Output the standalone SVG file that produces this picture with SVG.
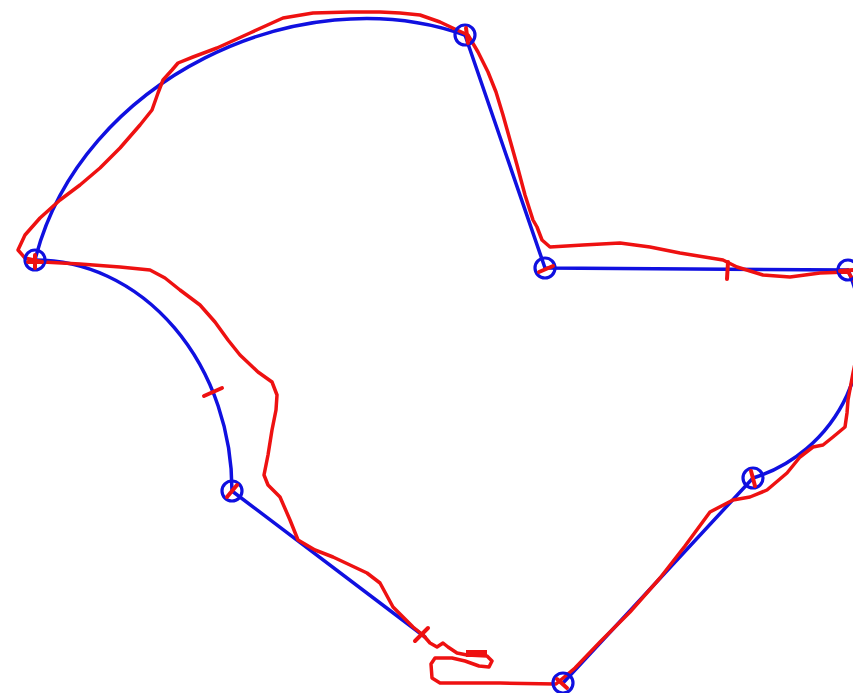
<svg xmlns="http://www.w3.org/2000/svg" width="853" height="693" viewBox="0 0 853 693">
<style>
.blue{fill:none;stroke:#1010e0;stroke-width:3.5;stroke-linecap:round;stroke-linejoin:round}
.node{fill:none;stroke:#1010e0;stroke-width:3.2}
.red{fill:none;stroke:#ee1111;stroke-width:3.5;stroke-linecap:round;stroke-linejoin:round}
.mark{fill:none;stroke:#ee1111;stroke-width:4;stroke-linecap:round}
</style>
<rect width="853" height="693" fill="#ffffff"/>
<g id="connectors">
<path class="blue" d="M35,260 C80,80 300,-24 465,35"/>
<path class="blue" d="M465,35 L545,268 L848,270"/>
<path class="blue" d="M848,270 A153.5,153.5 0 0 1 753,478 L563,683"/>
<path class="blue" d="M35,260 A197,231 0 0 1 232,491 L425,637"/>
<path class="red" d="M25,258 L43,262 L80,264 L120,267 L150,270 L165,278 L180,290 L200,305 L215,322 L228,340 L240,355 L258,372 L272,382 L277,395 L276,410 L272,430 L268,455 L264,475 L268,485 L280,497 L290,520 L298,540 L315,550 L333,557 L350,565 L367,573 L380,583 L393,607 L413,627 L423,635 L430,643 L437,647 L443,643 L448,647 L457,653 L467,655 L487,656 L492,661 L489,667 L479,666 L465,661 L452,658 L435,658 L431,664 L432,678 L440,683 L500,683 L556,684 L575,668 L600,642 L630,612 L660,578 L685,546 L710,512 L733,500 L750,497 L767,490 L787,473 L800,457 L813,447 L823,445 L833,437 L845,427 L847,413 L848,400 L853,373 L862,330 L860,290 L848,272 L820,273 L790,277 L763,275 L737,267 L723,260 L680,253 L650,247 L620,243 L583,245 L550,247 L542,240 L537,227 L533,220 L525,195 L517,165 L510,140 L503,115 L496,92 L488,72 L478,52 L468,35 L457,30 L440,22 L420,15 L400,13 L380,12 L350,12 L313,13 L283,18 L250,33 L217,48 L193,57 L178,63 L172,70 L163,80 L158,93 L152,110 L140,125 L120,148 L100,168 L80,185 L60,200 L40,218 L25,235 L18,250 Z"/>
<line class="mark" x1="204" y1="396" x2="222" y2="388"/>
<line class="mark" x1="728" y1="262" x2="727" y2="279"/>
<line class="mark" x1="415" y1="641" x2="428" y2="628"/>
<rect x="466" y="650" width="21" height="7" fill="#ee1111"/>
</g>
<g id="node-a"><circle class="node" cx="35" cy="260" r="10"/><path class="mark" d="M28,262 L42,262 M35,255 L35,268"/></g>
<g id="node-b"><circle class="node" cx="465" cy="35" r="10"/><line class="mark" x1="466" y1="28" x2="468" y2="43"/></g>
<g id="node-c"><circle class="node" cx="545" cy="268" r="10"/><line class="mark" x1="539" y1="272" x2="553" y2="266"/></g>
<g id="node-d"><circle class="node" cx="848" cy="270" r="10"/><line class="mark" x1="840" y1="271" x2="853" y2="270"/></g>
<g id="node-e"><circle class="node" cx="753" cy="478" r="10"/><line class="mark" x1="751" y1="471" x2="755" y2="486"/></g>
<g id="node-f"><circle class="node" cx="563" cy="683" r="10"/><line class="mark" x1="557" y1="679" x2="567" y2="688"/></g>
<g id="node-g"><circle class="node" cx="232" cy="491" r="10"/><line class="mark" x1="227" y1="497" x2="237" y2="485"/></g>
</svg>
